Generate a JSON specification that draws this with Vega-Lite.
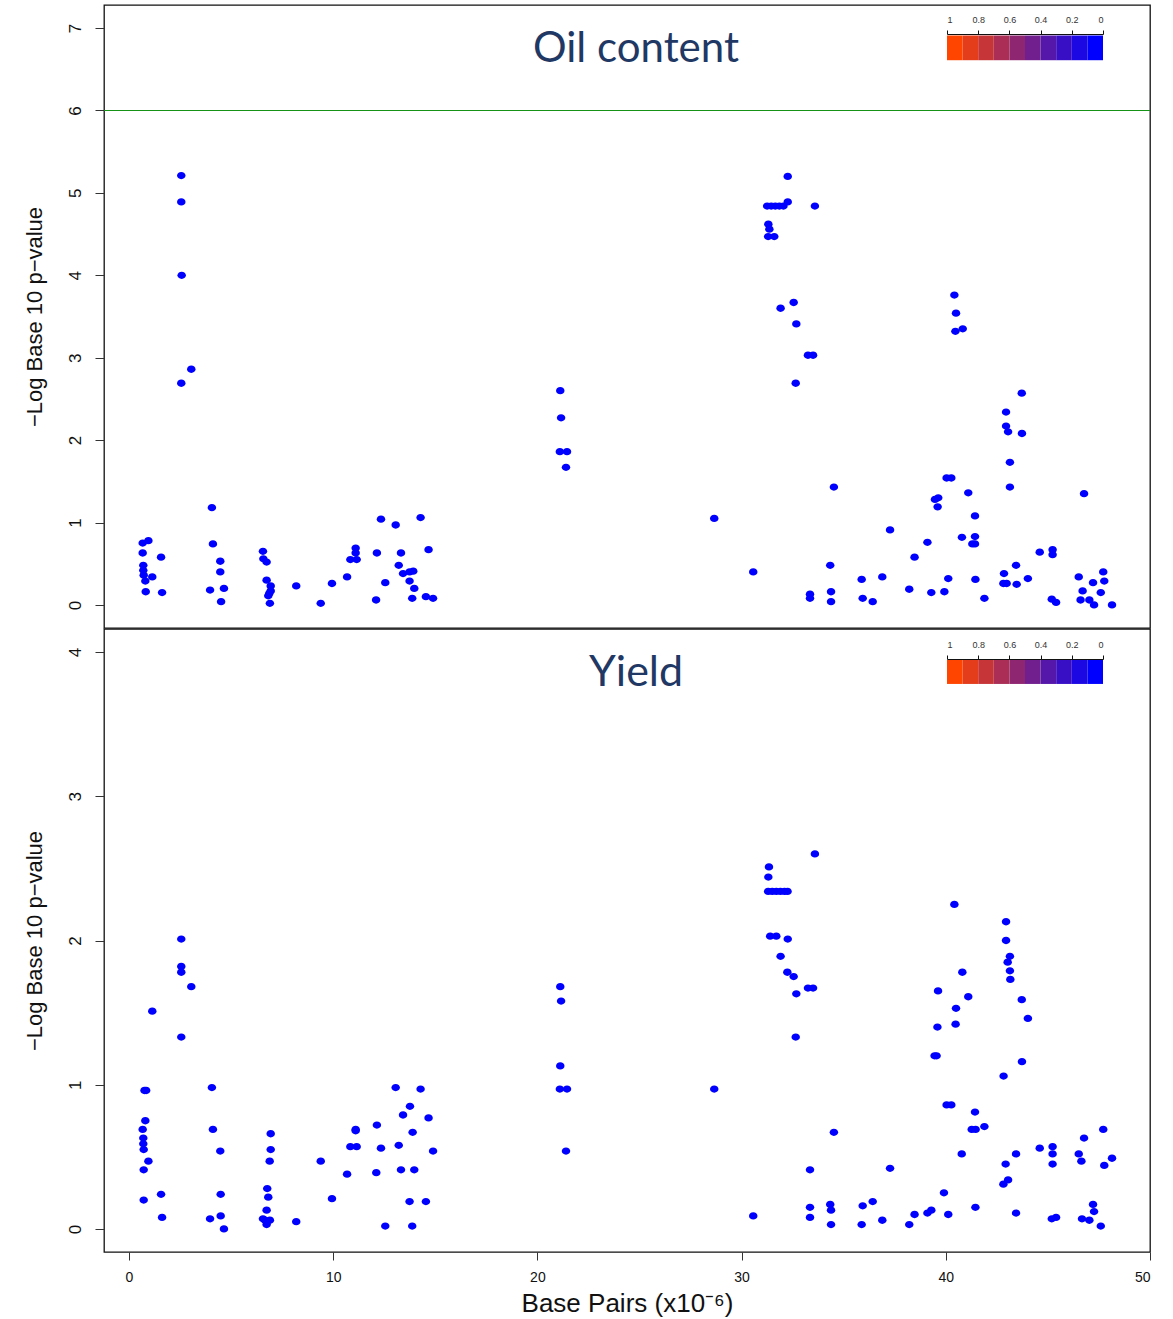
{
  "$schema": "https://vega.github.io/schema/vega-lite/v6.json",
  "padding": {"left": 22, "top": 4, "right": 20, "bottom": 2},
  "spacing": -2,
  "background": "white",
  "config": {
    "view": {"stroke": "#111111", "strokeWidth": 1.3},
    "axis": {
      "labelFont": "Liberation Sans",
      "titleFont": "Liberation Sans",
      "labelColor": "#111111",
      "titleColor": "#111111",
      "tickColor": "#333333",
      "domain": false,
      "grid": false,
      "titleFontWeight": "normal"
    }
  },
  "datasets": {
    "oil": [
      {"bp":0.67,"logp":0.75,"r2":0},{"bp":0.95,"logp":0.78,"r2":0},{"bp":0.67,"logp":0.63,"r2":0},{"bp":1.57,"logp":0.58,"r2":0},
      {"bp":0.70,"logp":0.48,"r2":0},{"bp":0.70,"logp":0.42,"r2":0},{"bp":0.72,"logp":0.36,"r2":0},{"bp":1.14,"logp":0.34,"r2":0},
      {"bp":0.80,"logp":0.29,"r2":0},{"bp":0.82,"logp":0.16,"r2":0},{"bp":1.62,"logp":0.15,"r2":0},
      {"bp":2.56,"logp":5.21,"r2":0},{"bp":2.56,"logp":4.89,"r2":0},{"bp":2.58,"logp":4.00,"r2":0},{"bp":2.56,"logp":2.69,"r2":0},{"bp":3.05,"logp":2.86,"r2":0},
      {"bp":4.06,"logp":1.18,"r2":0},{"bp":4.11,"logp":0.74,"r2":0},{"bp":4.47,"logp":0.53,"r2":0},{"bp":4.47,"logp":0.40,"r2":0},
      {"bp":3.97,"logp":0.18,"r2":0},{"bp":4.65,"logp":0.20,"r2":0},{"bp":4.51,"logp":0.04,"r2":0},
      {"bp":6.56,"logp":0.65,"r2":0},{"bp":6.58,"logp":0.56,"r2":0},{"bp":6.74,"logp":0.52,"r2":0},{"bp":6.74,"logp":0.30,"r2":0},
      {"bp":6.94,"logp":0.23,"r2":0},{"bp":6.94,"logp":0.17,"r2":0},{"bp":6.87,"logp":0.14,"r2":0},{"bp":6.82,"logp":0.11,"r2":0},{"bp":6.90,"logp":0.02,"r2":0},
      {"bp":8.19,"logp":0.23,"r2":0},{"bp":9.39,"logp":0.02,"r2":0},{"bp":9.94,"logp":0.26,"r2":0},{"bp":10.68,"logp":0.34,"r2":0},
      {"bp":10.84,"logp":0.55,"r2":0},{"bp":11.15,"logp":0.55,"r2":0},{"bp":11.10,"logp":0.69,"r2":0},{"bp":11.10,"logp":0.63,"r2":0},
      {"bp":12.14,"logp":0.63,"r2":0},{"bp":12.34,"logp":1.04,"r2":0},{"bp":12.10,"logp":0.06,"r2":0},{"bp":12.55,"logp":0.27,"r2":0},
      {"bp":13.06,"logp":0.97,"r2":0},{"bp":13.32,"logp":0.63,"r2":0},{"bp":13.21,"logp":0.48,"r2":0},{"bp":13.42,"logp":0.38,"r2":0},
      {"bp":13.74,"logp":0.40,"r2":0},{"bp":13.92,"logp":0.41,"r2":0},{"bp":13.74,"logp":0.29,"r2":0},{"bp":13.97,"logp":0.20,"r2":0},{"bp":13.87,"logp":0.08,"r2":0},
      {"bp":14.28,"logp":1.06,"r2":0},{"bp":14.67,"logp":0.67,"r2":0},{"bp":14.54,"logp":0.10,"r2":0},{"bp":14.89,"logp":0.08,"r2":0},
      {"bp":21.12,"logp":2.60,"r2":0},{"bp":21.16,"logp":2.27,"r2":0},{"bp":21.10,"logp":1.86,"r2":0},{"bp":21.45,"logp":1.86,"r2":0},{"bp":21.40,"logp":1.67,"r2":0},
      {"bp":28.66,"logp":1.05,"r2":0},{"bp":30.57,"logp":0.40,"r2":0},
      {"bp":31.25,"logp":4.84,"r2":0},{"bp":31.45,"logp":4.84,"r2":0},{"bp":31.65,"logp":4.84,"r2":0},{"bp":31.85,"logp":4.84,"r2":0},{"bp":32.05,"logp":4.84,"r2":0},
      {"bp":32.26,"logp":4.89,"r2":0},{"bp":32.26,"logp":5.20,"r2":0},{"bp":31.31,"logp":4.62,"r2":0},{"bp":31.36,"logp":4.56,"r2":0},
      {"bp":31.30,"logp":4.47,"r2":0},{"bp":31.60,"logp":4.47,"r2":0},{"bp":31.91,"logp":3.60,"r2":0},{"bp":32.55,"logp":3.67,"r2":0},
      {"bp":32.68,"logp":3.41,"r2":0},{"bp":32.65,"logp":2.69,"r2":0},{"bp":33.25,"logp":3.03,"r2":0},{"bp":33.50,"logp":3.03,"r2":0},{"bp":33.59,"logp":4.84,"r2":0},
      {"bp":33.35,"logp":0.13,"r2":0},{"bp":33.35,"logp":0.08,"r2":0},{"bp":34.52,"logp":1.43,"r2":0},{"bp":34.34,"logp":0.48,"r2":0},
      {"bp":34.38,"logp":0.16,"r2":0},{"bp":34.38,"logp":0.04,"r2":0},
      {"bp":35.88,"logp":0.31,"r2":0},{"bp":35.93,"logp":0.08,"r2":0},{"bp":36.42,"logp":0.04,"r2":0},{"bp":36.89,"logp":0.34,"r2":0},
      {"bp":37.27,"logp":0.91,"r2":0},{"bp":38.21,"logp":0.19,"r2":0},{"bp":38.47,"logp":0.58,"r2":0},{"bp":39.10,"logp":0.76,"r2":0},
      {"bp":39.29,"logp":0.15,"r2":0},{"bp":39.47,"logp":1.28,"r2":0},{"bp":39.63,"logp":1.30,"r2":0},{"bp":39.60,"logp":1.19,"r2":0},
      {"bp":39.93,"logp":0.16,"r2":0},{"bp":40.04,"logp":1.54,"r2":0},{"bp":40.27,"logp":1.54,"r2":0},{"bp":40.12,"logp":0.32,"r2":0},
      {"bp":40.42,"logp":3.76,"r2":0},{"bp":40.50,"logp":3.54,"r2":0},{"bp":40.47,"logp":3.32,"r2":0},{"bp":40.83,"logp":3.35,"r2":0},
      {"bp":40.79,"logp":0.82,"r2":0},{"bp":41.10,"logp":1.36,"r2":0},{"bp":41.43,"logp":1.08,"r2":0},{"bp":41.43,"logp":0.83,"r2":0},
      {"bp":41.30,"logp":0.74,"r2":0},{"bp":41.43,"logp":0.74,"r2":0},{"bp":41.45,"logp":0.31,"r2":0},{"bp":41.89,"logp":0.08,"r2":0},
      {"bp":42.95,"logp":2.34,"r2":0},{"bp":42.95,"logp":2.17,"r2":0},{"bp":43.05,"logp":2.10,"r2":0},{"bp":43.73,"logp":2.08,"r2":0},
      {"bp":43.72,"logp":2.57,"r2":0},{"bp":43.14,"logp":1.73,"r2":0},{"bp":43.14,"logp":1.43,"r2":0},{"bp":42.85,"logp":0.38,"r2":0},
      {"bp":42.82,"logp":0.26,"r2":0},{"bp":42.98,"logp":0.26,"r2":0},{"bp":43.47,"logp":0.25,"r2":0},{"bp":43.44,"logp":0.48,"r2":0},
      {"bp":44.02,"logp":0.32,"r2":0},{"bp":44.60,"logp":0.64,"r2":0},{"bp":45.23,"logp":0.67,"r2":0},{"bp":45.23,"logp":0.61,"r2":0},
      {"bp":45.19,"logp":0.07,"r2":0},{"bp":45.40,"logp":0.03,"r2":0},{"bp":46.51,"logp":0.34,"r2":0},{"bp":46.77,"logp":1.35,"r2":0},
      {"bp":46.70,"logp":0.17,"r2":0},{"bp":46.60,"logp":0.06,"r2":0},{"bp":47.03,"logp":0.06,"r2":0},{"bp":47.21,"logp":0.27,"r2":0},
      {"bp":47.26,"logp":0.00,"r2":0},{"bp":47.59,"logp":0.15,"r2":0},{"bp":47.71,"logp":0.40,"r2":0},{"bp":47.76,"logp":0.29,"r2":0},{"bp":48.14,"logp":0.00,"r2":0}
    ],
    "yield": [
      {"bp":0.76,"logp":0.96,"r2":0},{"bp":0.84,"logp":0.96,"r2":0},{"bp":0.80,"logp":0.75,"r2":0},{"bp":0.67,"logp":0.69,"r2":0},
      {"bp":0.70,"logp":0.63,"r2":0},{"bp":0.70,"logp":0.59,"r2":0},{"bp":0.72,"logp":0.55,"r2":0},{"bp":0.95,"logp":0.47,"r2":0},
      {"bp":0.72,"logp":0.41,"r2":0},{"bp":0.72,"logp":0.20,"r2":0},{"bp":1.14,"logp":1.51,"r2":0},{"bp":1.57,"logp":0.24,"r2":0},{"bp":1.62,"logp":0.08,"r2":0},
      {"bp":2.56,"logp":2.01,"r2":0},{"bp":2.56,"logp":1.82,"r2":0},{"bp":2.56,"logp":1.78,"r2":0},{"bp":3.05,"logp":1.68,"r2":0},{"bp":2.56,"logp":1.33,"r2":0},
      {"bp":4.06,"logp":0.98,"r2":0},{"bp":4.11,"logp":0.69,"r2":0},{"bp":4.47,"logp":0.54,"r2":0},{"bp":4.49,"logp":0.24,"r2":0},
      {"bp":3.97,"logp":0.07,"r2":0},{"bp":4.49,"logp":0.09,"r2":0},{"bp":4.65,"logp":0.00,"r2":0},
      {"bp":6.94,"logp":0.66,"r2":0},{"bp":6.94,"logp":0.55,"r2":0},{"bp":6.89,"logp":0.47,"r2":0},{"bp":6.77,"logp":0.28,"r2":0},
      {"bp":6.82,"logp":0.22,"r2":0},{"bp":6.74,"logp":0.13,"r2":0},{"bp":6.56,"logp":0.07,"r2":0},{"bp":6.66,"logp":0.06,"r2":0},
      {"bp":6.90,"logp":0.06,"r2":0},{"bp":6.74,"logp":0.03,"r2":0},
      {"bp":8.19,"logp":0.05,"r2":0},{"bp":9.39,"logp":0.47,"r2":0},{"bp":9.94,"logp":0.21,"r2":0},{"bp":10.68,"logp":0.38,"r2":0},
      {"bp":10.84,"logp":0.57,"r2":0},{"bp":11.15,"logp":0.57,"r2":0},{"bp":11.10,"logp":0.69,"r2":0},{"bp":11.10,"logp":0.68,"r2":0},
      {"bp":12.14,"logp":0.72,"r2":0},{"bp":12.11,"logp":0.39,"r2":0},{"bp":12.34,"logp":0.56,"r2":0},{"bp":12.55,"logp":0.02,"r2":0},
      {"bp":13.06,"logp":0.98,"r2":0},{"bp":13.21,"logp":0.58,"r2":0},{"bp":13.32,"logp":0.41,"r2":0},{"bp":13.42,"logp":0.79,"r2":0},
      {"bp":13.76,"logp":0.85,"r2":0},{"bp":13.89,"logp":0.67,"r2":0},{"bp":13.97,"logp":0.41,"r2":0},{"bp":13.74,"logp":0.19,"r2":0},{"bp":13.87,"logp":0.02,"r2":0},
      {"bp":14.28,"logp":0.97,"r2":0},{"bp":14.67,"logp":0.77,"r2":0},{"bp":14.89,"logp":0.54,"r2":0},{"bp":14.54,"logp":0.19,"r2":0},
      {"bp":21.12,"logp":1.68,"r2":0},{"bp":21.16,"logp":1.58,"r2":0},{"bp":21.12,"logp":1.13,"r2":0},{"bp":21.10,"logp":0.97,"r2":0},
      {"bp":21.45,"logp":0.97,"r2":0},{"bp":21.40,"logp":0.54,"r2":0},{"bp":28.66,"logp":0.97,"r2":0},{"bp":30.57,"logp":0.09,"r2":0},
      {"bp":31.34,"logp":2.51,"r2":0},{"bp":31.31,"logp":2.44,"r2":0},{"bp":31.30,"logp":2.34,"r2":0},{"bp":31.50,"logp":2.34,"r2":0},
      {"bp":31.70,"logp":2.34,"r2":0},{"bp":31.90,"logp":2.34,"r2":0},{"bp":32.10,"logp":2.34,"r2":0},{"bp":32.25,"logp":2.34,"r2":0},
      {"bp":31.40,"logp":2.03,"r2":0},{"bp":31.70,"logp":2.03,"r2":0},{"bp":32.26,"logp":2.01,"r2":0},{"bp":31.91,"logp":1.89,"r2":0},
      {"bp":32.24,"logp":1.78,"r2":0},{"bp":32.55,"logp":1.75,"r2":0},{"bp":33.25,"logp":1.67,"r2":0},{"bp":33.50,"logp":1.67,"r2":0},
      {"bp":32.68,"logp":1.63,"r2":0},{"bp":32.65,"logp":1.33,"r2":0},{"bp":33.59,"logp":2.60,"r2":0},
      {"bp":33.35,"logp":0.41,"r2":0},{"bp":33.35,"logp":0.15,"r2":0},{"bp":33.35,"logp":0.08,"r2":0},{"bp":34.52,"logp":0.67,"r2":0},
      {"bp":34.34,"logp":0.17,"r2":0},{"bp":34.38,"logp":0.13,"r2":0},{"bp":34.38,"logp":0.03,"r2":0},
      {"bp":35.88,"logp":0.03,"r2":0},{"bp":35.93,"logp":0.16,"r2":0},{"bp":36.42,"logp":0.19,"r2":0},{"bp":36.89,"logp":0.06,"r2":0},
      {"bp":37.27,"logp":0.42,"r2":0},{"bp":38.21,"logp":0.03,"r2":0},{"bp":38.47,"logp":0.10,"r2":0},{"bp":39.10,"logp":0.11,"r2":0},
      {"bp":39.29,"logp":0.13,"r2":0},{"bp":39.45,"logp":1.20,"r2":0},{"bp":39.55,"logp":1.20,"r2":0},{"bp":39.59,"logp":1.40,"r2":0},
      {"bp":39.62,"logp":1.65,"r2":0},{"bp":39.91,"logp":0.25,"r2":0},{"bp":40.04,"logp":0.86,"r2":0},{"bp":40.27,"logp":0.86,"r2":0},
      {"bp":40.12,"logp":0.10,"r2":0},{"bp":40.42,"logp":2.25,"r2":0},{"bp":40.48,"logp":1.42,"r2":0},{"bp":40.50,"logp":1.53,"r2":0},
      {"bp":40.81,"logp":1.78,"r2":0},{"bp":40.78,"logp":0.52,"r2":0},{"bp":41.10,"logp":1.61,"r2":0},{"bp":41.43,"logp":0.81,"r2":0},
      {"bp":41.27,"logp":0.69,"r2":0},{"bp":41.46,"logp":0.69,"r2":0},{"bp":41.45,"logp":0.15,"r2":0},{"bp":41.89,"logp":0.71,"r2":0},
      {"bp":42.83,"logp":1.06,"r2":0},{"bp":42.95,"logp":2.13,"r2":0},{"bp":42.95,"logp":2.00,"r2":0},{"bp":43.14,"logp":1.89,"r2":0},
      {"bp":43.03,"logp":1.85,"r2":0},{"bp":43.14,"logp":1.79,"r2":0},{"bp":43.16,"logp":1.73,"r2":0},{"bp":42.82,"logp":0.31,"r2":0},
      {"bp":43.05,"logp":0.34,"r2":0},{"bp":42.93,"logp":0.45,"r2":0},{"bp":43.44,"logp":0.52,"r2":0},{"bp":43.44,"logp":0.11,"r2":0},
      {"bp":43.72,"logp":1.59,"r2":0},{"bp":43.73,"logp":1.16,"r2":0},{"bp":44.02,"logp":1.46,"r2":0},{"bp":44.60,"logp":0.56,"r2":0},
      {"bp":45.23,"logp":0.57,"r2":0},{"bp":45.23,"logp":0.52,"r2":0},{"bp":45.23,"logp":0.45,"r2":0},{"bp":45.19,"logp":0.07,"r2":0},
      {"bp":45.40,"logp":0.08,"r2":0},{"bp":46.51,"logp":0.52,"r2":0},{"bp":46.64,"logp":0.47,"r2":0},{"bp":46.77,"logp":0.63,"r2":0},
      {"bp":46.67,"logp":0.07,"r2":0},{"bp":47.03,"logp":0.06,"r2":0},{"bp":47.21,"logp":0.17,"r2":0},{"bp":47.26,"logp":0.12,"r2":0},
      {"bp":47.59,"logp":0.02,"r2":0},{"bp":47.71,"logp":0.69,"r2":0},{"bp":47.76,"logp":0.44,"r2":0},{"bp":48.14,"logp":0.49,"r2":0}
    ],
    "ldKey": [
      {"lo":0.0,"hi":0.1},{"lo":0.1,"hi":0.2},{"lo":0.2,"hi":0.3},{"lo":0.3,"hi":0.4},{"lo":0.4,"hi":0.5},
      {"lo":0.5,"hi":0.6},{"lo":0.6,"hi":0.7},{"lo":0.7,"hi":0.8},{"lo":0.8,"hi":0.9},{"lo":0.9,"hi":1.0}
    ]
  },
  "vconcat": [
    {
      "width": 1046,
      "height": 623,
      "layer": [
        {
          "layer": [
            {
              "data": {"name": "oil"},
              "mark": {"type": "point", "filled": true, "opacity": 1, "size": 72, "shape": "M-1,0A1,0.86,0,1,0,1,0A1,0.86,0,1,0,-1,0Z"},
              "encoding": {
                "x": {"field": "bp", "type": "quantitative", "scale": {"domain": [-1.224, 50], "nice": false, "zero": false}, "axis": null},
                "y": {"field": "logp", "type": "quantitative", "scale": {"domain": [-0.28, 7.28], "nice": false, "zero": false},
                      "title": "−Log Base 10 p−value",
                      "axis": {"values": [0,1,2,3,4,5,6,7], "format": "d", "tickSize": 9, "labelAngle": -90, "labelAlign": "center", "labelBaseline": "alphabetic", "labelPadding": 15, "labelFontSize": 17, "titleFontSize": 22, "titlePadding": 20}},
                "color": {"field": "r2", "type": "quantitative", "legend": null,
                          "scale": {"type": "threshold", "domain": [0.1,0.2,0.3,0.4,0.5,0.6,0.7,0.8,0.9],
                                    "range": ["#0000FF","#1C08E3","#390FC6","#5517AA","#711F8E","#8E2671","#AA2E55","#C63639","#E33D1C","#FF4500"]}}
              }
            },
            {
              "data": {"values": [{"threshold": 6}]},
              "mark": {"type": "rule", "strokeWidth": 1.2, "opacity": 1},
              "encoding": {
                "y": {"field": "threshold", "type": "quantitative", "title": "−Log Base 10 p−value"},
                "color": {"value": "#169216"}
              }
            },
            {
              "data": {"values": [{"trait": "Oil content"}]},
              "mark": {"type": "text", "font": "Lato", "fontSize": 42, "color": "#1F3864", "align": "center", "baseline": "alphabetic"},
              "encoding": {
                "text": {"field": "trait"},
                "x": {"datum": 24.83},
                "y": {"datum": 6.585, "title": "−Log Base 10 p−value"}
              }
            }
          ]
        },
        {
          "data": {"name": "ldKey"},
          "mark": {"type": "rect"},
          "encoding": {
            "x": {"field": "hi", "type": "quantitative", "scale": {"domain": [1, 0], "range": [843, 999], "nice": false, "zero": false},
                  "axis": {"orient": "top", "values": [1,0.8,0.6,0.4,0.2,0], "format": "~g", "offset": -29, "title": null, "domain": true, "domainColor": "#111111", "domainWidth": 1, "tickSize": 4, "tickColor": "#111111", "labelFontSize": 9, "labelPadding": 6, "labelColor": "#333333"}},
            "x2": {"field": "lo"},
            "y": {"datum": 6.61, "title": "−Log Base 10 p−value"},
            "y2": {"datum": 6.91},
            "color": {"field": "lo", "type": "quantitative", "legend": null,
                      "scale": {"type": "threshold", "domain": [0.1,0.2,0.3,0.4,0.5,0.6,0.7,0.8,0.9],
                                "range": ["#0000FF","#1C08E3","#390FC6","#5517AA","#711F8E","#8E2671","#AA2E55","#C63639","#E33D1C","#FF4500"]}}
          }
        }
      ],
      "resolve": {"scale": {"x": "independent"}, "axis": {"x": "independent"}}
    },
    {
      "width": 1046,
      "height": 623,
      "layer": [
        {
          "layer": [
            {
              "data": {"name": "yield"},
              "mark": {"type": "point", "filled": true, "opacity": 1, "size": 72, "shape": "M-1,0A1,0.86,0,1,0,1,0A1,0.86,0,1,0,-1,0Z"},
              "encoding": {
                "x": {"field": "bp", "type": "quantitative", "scale": {"domain": [-1.224, 50], "nice": false, "zero": false},
                      "title": "Base Pairs (x10⁻⁶)",
                      "axis": {"values": [0,10,20,30,40,50], "tickSize": 8, "labelFontSize": 14, "labelPadding": 10, "titleFontSize": 26, "titlePadding": 6}},
                "y": {"field": "logp", "type": "quantitative", "scale": {"domain": [-0.16, 4.16], "nice": false, "zero": false},
                      "title": "−Log Base 10 p−value",
                      "axis": {"values": [0,1,2,3,4], "format": "d", "tickSize": 9, "labelAngle": -90, "labelAlign": "center", "labelBaseline": "alphabetic", "labelPadding": 15, "labelFontSize": 17, "titleFontSize": 22, "titlePadding": 20}},
                "color": {"field": "r2", "type": "quantitative", "legend": null,
                          "scale": {"type": "threshold", "domain": [0.1,0.2,0.3,0.4,0.5,0.6,0.7,0.8,0.9],
                                    "range": ["#0000FF","#1C08E3","#390FC6","#5517AA","#711F8E","#8E2671","#AA2E55","#C63639","#E33D1C","#FF4500"]}}
              }
            },
            {
              "data": {"values": [{"trait": "Yield"}]},
              "mark": {"type": "text", "font": "Lato", "fontSize": 43, "color": "#1F3864", "align": "center", "baseline": "alphabetic"},
              "encoding": {
                "text": {"field": "trait"},
                "x": {"datum": 24.83, "title": "Base Pairs (x10⁻⁶)"},
                "y": {"datum": 3.765, "title": "−Log Base 10 p−value"}
              }
            }
          ]
        },
        {
          "data": {"name": "ldKey"},
          "mark": {"type": "rect"},
          "encoding": {
            "x": {"field": "hi", "type": "quantitative", "scale": {"domain": [1, 0], "range": [843, 999], "nice": false, "zero": false},
                  "axis": {"orient": "top", "values": [1,0.8,0.6,0.4,0.2,0], "format": "~g", "offset": -30, "title": null, "domain": true, "domainColor": "#111111", "domainWidth": 1, "tickSize": 4, "tickColor": "#111111", "labelFontSize": 9, "labelPadding": 6, "labelColor": "#333333"}},
            "x2": {"field": "lo"},
            "y": {"datum": 3.779, "title": "−Log Base 10 p−value"},
            "y2": {"datum": 3.945},
            "color": {"field": "lo", "type": "quantitative", "legend": null,
                      "scale": {"type": "threshold", "domain": [0.1,0.2,0.3,0.4,0.5,0.6,0.7,0.8,0.9],
                                "range": ["#0000FF","#1C08E3","#390FC6","#5517AA","#711F8E","#8E2671","#AA2E55","#C63639","#E33D1C","#FF4500"]}}
          }
        }
      ],
      "resolve": {"scale": {"x": "independent"}, "axis": {"x": "independent"}}
    }
  ]
}
